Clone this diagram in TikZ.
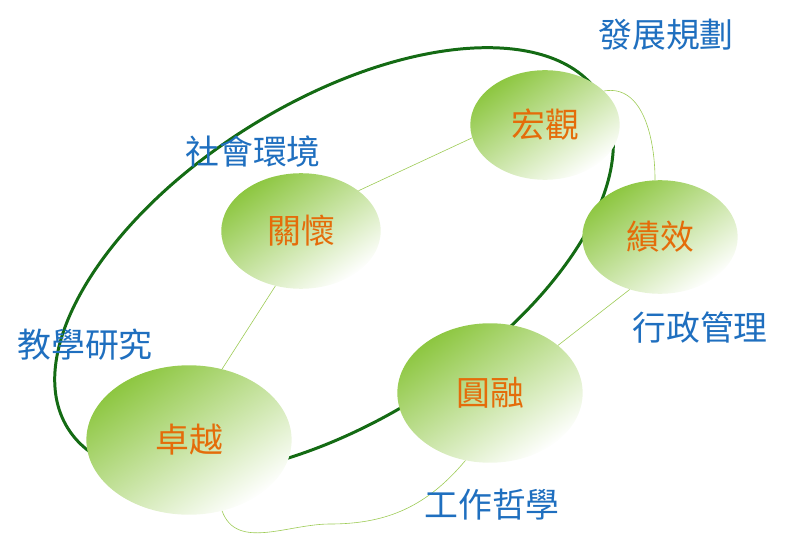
\documentclass[tikz,border=0pt]{standalone}
\usepackage{fontspec}
\newfontfamily\cjk{Noto Sans CJK TC}
\usetikzlibrary{shapes.geometric}
\definecolor{dkgreen}{HTML}{146B14}
\definecolor{ltgreen}{HTML}{9DCB55}
\definecolor{bubg}{HTML}{8CC63F}
\definecolor{lblue}{HTML}{1F6FBF}
\definecolor{orng}{HTML}{E46C0A}
\begin{document}
\begin{tikzpicture}[x=1bp,y=-1bp,
  bub/.style={ellipse,draw=none,inner sep=0pt,shading=axis,top color=bubg,bottom color=white,shading angle=35,font=\cjk\fontsize{34}{34}\selectfont,text=orng},
  lab/.style={font=\cjk\fontsize{34}{34}\selectfont,text=lblue},
  con/.style={draw=ltgreen,line width=0.6pt}]
\useasboundingbox (0,0) rectangle (788,543);
\node[draw=dkgreen,line width=3pt,ellipse,minimum width=630,minimum height=320,rotate=32] (ring) at (334,262) {};
\node[bub,minimum width=150,minimum height=110] (hg) at (545,125) {宏觀};
\node[bub,minimum width=160,minimum height=116] (gh) at (301,231) {關懷};
\node[bub,minimum width=156,minimum height=114] (jx) at (660,237) {績效};
\node[bub,minimum width=186,minimum height=140] (yr) at (490,393) {圓融};
\node[bub,minimum width=206,minimum height=150] (zy) at (189,440) {卓越};
\draw[con] (gh.35) -- (hg.190);
\draw[con] (zy.65) -- (gh.245);
\draw[con] (yr.35) -- (jx.240);
\draw[con] (hg.30) to[out=10,in=90] (jx.95);
\draw[con] (yr.250) to[out=-130,in=0] (330,524) to[out=180,in=-70] (zy.295);
\node[lab] (t1) at (666,35) {發展規劃};
\node[lab] (t2) at (253,152) {社會環境};
\node[lab] (t3) at (85,345) {教學研究};
\node[lab] (t4) at (700,328) {行政管理};
\node[lab] (t5) at (492,505) {工作哲學};
\end{tikzpicture}
\end{document}
